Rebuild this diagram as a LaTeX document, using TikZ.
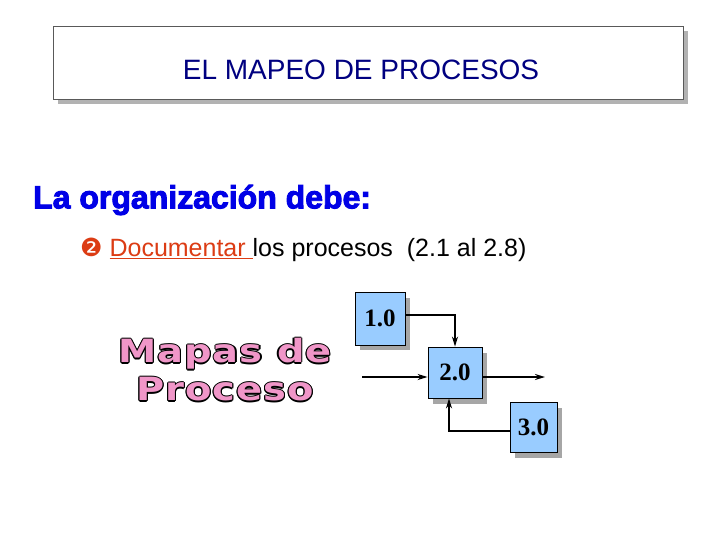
\documentclass[tikz,border=0pt]{standalone}
\usepackage{fontspec}
\setmainfont{Liberation Sans}
\newfontfamily\dejavu{DejaVu Sans}
\newfontfamily\dejavub{DejaVu Sans Bold}[FakeStretch=1.2,LetterSpace=3]
\newfontfamily\serifb{Liberation Serif}
\usetikzlibrary{arrows.meta}
\definecolor{boxblue}{RGB}{153,204,255}
\definecolor{titleblue}{RGB}{0,0,128}
\definecolor{headblue}{RGB}{0,0,230}
\definecolor{docred}{RGB}{220,60,20}
\definecolor{pinkf}{RGB}{240,150,200}
\newcommand\mapastext{Mapas de\\Proceso}
\tikzset{
  proc/.style={draw=black,line width=0.8pt,fill=boxblue,inner sep=0pt,font=\serifb\bfseries\fontsize{25}{28}\selectfont},
  shad/.style={fill=gray!70,draw=none},
  flow/.style={draw=black,line width=2pt,-{Stealth[length=10pt,width=6pt]}},
  mp/.style={align=center,font=\dejavub\fontsize{32}{38}\selectfont}
}
\begin{document}
\begin{tikzpicture}[x=1pt,y=-1pt]
\useasboundingbox (0,0) rectangle (720,540);
\fill[white] (0,0) rectangle (720,540);
% title
\fill[gray!60] (58,31) rectangle (688,104);
\draw[fill=white,draw=gray!70!black] (53,26) rectangle (683,99);
\node (title) at (361,70) {\fontsize{28}{32}\selectfont\color{titleblue}EL MAPEO DE PROCESOS};
\node[anchor=west,inner sep=0pt] (head) at (33,200) {\fontsize{32}{35}\selectfont\bfseries\color{headblue}\addfontfeature{FakeBold=3}La organización debe:};
\node[anchor=west,inner sep=0pt] (bullet) at (80,250) {\fontsize{25}{28}\selectfont{\dejavu\color{docred}❷} \textcolor{docred}{\underline{Documentar }}los procesos \ (2.1 al 2.8)};
% Mapas de Proceso (outlined)
\foreach \dx/\dy in {-1.2/0,1.2/0,0/-1.2,0/1.2,-0.9/-0.9,0.9/0.9,-0.9/0.9,0.9/-0.9}
  \node[mp,text=black] at (225+\dx,370+\dy) {\mapastext};
\node[mp,text=pinkf] (mapas) at (225,370) {\mapastext};
% boxes
\fill[shad] (360,298) rectangle (410,350);
\fill[shad] (433,353) rectangle (487,404);
\fill[shad] (515,408) rectangle (562,458);
\node[proc,minimum width=50pt,minimum height=53pt] (b1) at (380,318.5) {1.0};
\node[proc,minimum width=54pt,minimum height=51pt] (b2) at (455,372.5) {2.0};
\node[proc,minimum width=47pt,minimum height=50pt] (b3) at (533.5,427) {3.0};
\coordinate (in) at (362,377);
\coordinate (out) at (545,377);
\draw[flow] (b1.east |- 0,315) -- (455,315) -- (b2.north);
\draw[flow] (in) -- (b2.west |- in);
\draw[flow] (b2.east |- out) -- (out);
\draw[flow] (b3.west |- 0,431) -- (449,431) -- (b2.south -| 449,0);
\end{tikzpicture}
\end{document}
